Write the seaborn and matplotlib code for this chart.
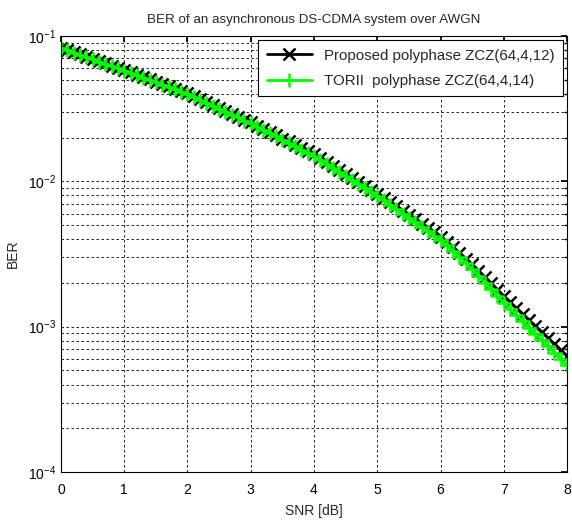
import numpy as np
import pandas as pd
import matplotlib
matplotlib.use("Agg")
import matplotlib.pyplot as plt
import seaborn as sns

# ── Data (0.1 dB steps) ──────────────────────────────────
snr_db = np.round(np.arange(0, 8.01, 0.1), 1)

ber_proposed = [
    0.0832, 0.0803, 0.0774, 0.0747, 0.0721, 0.0696, 0.0671, 0.0648, 0.0625, 0.0603,
    0.0582, 0.0561, 0.0541, 0.0521, 0.0502, 0.0484, 0.0467, 0.0450, 0.0434, 0.0418,
    0.0403, 0.0385, 0.0367, 0.0351, 0.0335, 0.0320, 0.0306, 0.0292, 0.0279, 0.0266,
    0.0254, 0.0242, 0.0230, 0.0218, 0.0208, 0.0197, 0.0188, 0.0178, 0.0169, 0.0161,
    0.0153, 0.01439, 0.01352, 0.01271, 0.01194, 0.01122, 0.01054, 0.00991, 0.00931, 0.00875,
    0.00822, 0.00768, 0.00718, 0.00671, 0.00627, 0.00586, 0.00547, 0.00511, 0.00478, 0.00446,
    0.00417, 0.00385, 0.00353, 0.00323, 0.00294, 0.00268, 0.00243, 0.00220, 0.00199, 0.00180,
    0.00162, 0.00148, 0.00134, 0.00122, 0.00111, 0.00101, 0.000920, 0.000838, 0.000762, 0.000693,
    0.000631,
]

ber_torii = [
    0.0824, 0.0796, 0.0767, 0.0740, 0.0715, 0.0690, 0.0665, 0.0642, 0.0619, 0.0598,
    0.0577, 0.0555, 0.0536, 0.0516, 0.0497, 0.0479, 0.0462, 0.0445, 0.0429, 0.0413,
    0.0398, 0.0380, 0.0363, 0.0347, 0.0331, 0.0316, 0.0302, 0.0288, 0.0275, 0.0262,
    0.0250, 0.0238, 0.0226, 0.0214, 0.0204, 0.0193, 0.0184, 0.0174, 0.0165, 0.0157,
    0.0150, 0.01404, 0.01318, 0.01238, 0.01162, 0.01091, 0.01024, 0.00962, 0.00903, 0.00848,
    0.00794, 0.00740, 0.00690, 0.00643, 0.00600, 0.00559, 0.00521, 0.00486, 0.00454, 0.00423,
    0.00394, 0.00362, 0.00330, 0.00301, 0.00273, 0.00248, 0.00224, 0.00201, 0.00181, 0.00163,
    0.00146, 0.00133, 0.00120, 0.00109, 0.000983, 0.000891, 0.000808, 0.000732, 0.000663, 0.000600,
    0.000543,
]

label_proposed = "Proposed polyphase ZCZ(64,4,12)"
label_torii = "TORII  polyphase ZCZ(64,4,14)"

df = pd.DataFrame({"snr": snr_db, "proposed": ber_proposed, "torii": ber_torii})

# ── Plot ──────────────────────────────────────────────────
sns.set_theme(style="white")
plt.rcParams["font.family"] = ["Liberation Sans", "DejaVu Sans"]
plt.rcParams["mathtext.fontset"] = "custom"
plt.rcParams["mathtext.rm"] = "Liberation Sans"

fig = plt.figure(figsize=(5.72, 5.21), dpi=100)
ax = fig.add_axes([0.1066, 0.094, 0.8847, 0.837])

black = "black"
green = "#00ff00"
# seaborn makes marker edges white by default -> set them explicitly
sns.lineplot(data=df, x="snr", y="proposed", ax=ax, color=black, linewidth=2,
             marker="x", markersize=8, markeredgewidth=1.8, markeredgecolor=black,
             label=label_proposed)
sns.lineplot(data=df, x="snr", y="torii", ax=ax, color=green, linewidth=2,
             marker="+", markersize=10, markeredgewidth=1.8, markeredgecolor=green,
             label=label_torii)

ax.set_yscale("log")
ax.set_xlim(0, 8)
ax.set_ylim(1e-4, 1e-1)
ax.set_xticks(range(0, 9))

grid_style = dict(color="black", linestyle=(0, (3, 3)), linewidth=0.6)
ax.grid(True, which="major", axis="both", **grid_style)
ax.grid(True, which="minor", axis="y", **grid_style)
ax.set_axisbelow(True)

ax.tick_params(which="both", direction="in", labelsize=10, colors="black",
               top=True, right=True)
ax.tick_params(which="major", length=4)
ax.tick_params(which="minor", length=2)
ax.tick_params(axis="x", pad=8)
for s in ax.spines.values():
    s.set_color("black")
    s.set_linewidth(0.8)

ax.set_title("BER of an asynchronous DS-CDMA system over AWGN", fontsize=9.6, pad=9)
ax.set_xlabel("SNR [dB]", fontsize=10, labelpad=5)
ax.set_ylabel("BER", fontsize=10)
ax.yaxis.set_label_coords(-0.082, 0.5)

leg = ax.legend(loc="upper right", fontsize=10.8, frameon=True, fancybox=False,
                edgecolor="black", handlelength=3.0, borderaxespad=0.3,
                labelspacing=0.75, borderpad=0.55, framealpha=1)
leg.get_frame().set_linewidth(0.8)

fig.savefig("out.png", dpi=100)
